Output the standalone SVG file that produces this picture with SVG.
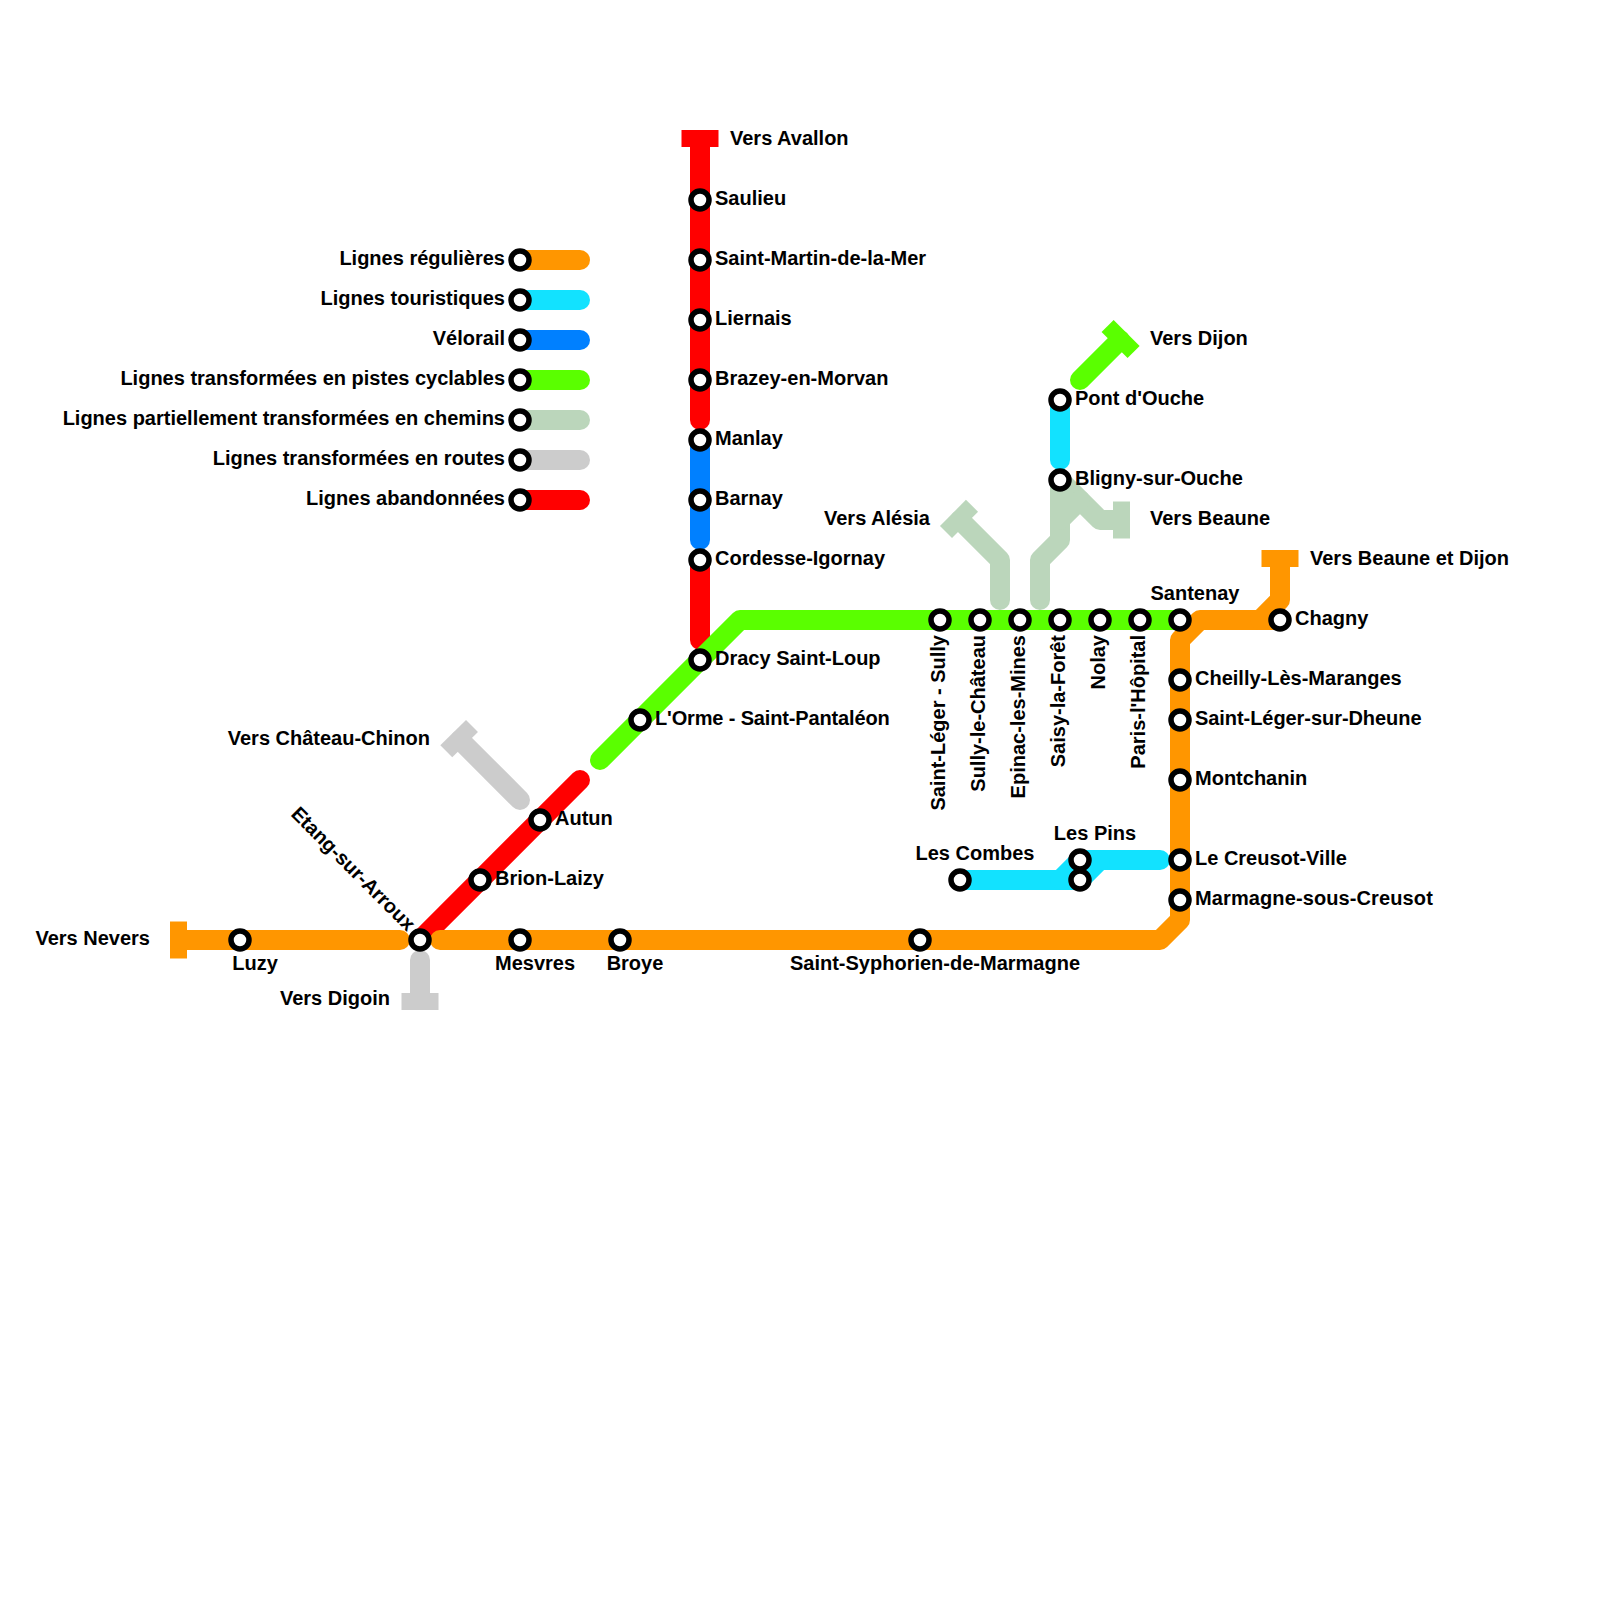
<svg xmlns="http://www.w3.org/2000/svg" width="1600" height="1600" viewBox="0 0 1600 1600">
<style>
.l{fill:none;stroke-width:20;stroke-linecap:round;stroke-linejoin:round}
.b{fill:none;stroke-width:17;stroke-linecap:butt}
.or{stroke:#ff9600}.cy{stroke:#12e2ff}.bl{stroke:#0080ff}.gr{stroke:#5aff00}.ch{stroke:#bbd6bb}.gy{stroke:#cccccc}.re{stroke:#ff0000}
.s{fill:#fff;stroke:#000;stroke-width:5.5}
text{font-family:"Liberation Sans",Arial,sans-serif;font-weight:700;font-size:20px;fill:#000}
.e{text-anchor:end}.m{text-anchor:middle}
</style>
<rect width="1600" height="1600" fill="#fff"/>
<g id="connectors">
<path class="l or" d="M520 260H580"/>
<path class="l cy" d="M520 300H580"/>
<path class="l bl" d="M520 340H580"/>
<path class="l gr" d="M520 380H580"/>
<path class="l ch" d="M520 420H580"/>
<path class="l gy" d="M520 460H580"/>
<path class="l re" d="M520 500H580"/>
<path class="l re" d="M700 140V420"/>
<path class="b re" d="M681.500 138.500H718.500"/>
<path class="l bl" d="M700 440V540"/>
<path class="l re" d="M700 560V640"/>
<path class="l re" d="M420 940L580 780"/>
<path class="l gr" d="M600 760L740 620H1180"/>
<path class="l gr" d="M1080 380L1120 340"/>
<path class="b gr" d="M1107.600 326L1133.600 352"/>
<path class="l cy" d="M1060 400V460"/>
<path class="l ch" d="M1000 600V560L960 520"/>
<path class="b ch" d="M972 505.800L946 532"/>
<path class="l ch" d="M1040 600V560L1060 540V480"/>
<path class="l ch" d="M1060 480L1100 520H1120"/>
<path class="l ch" d="M1060 520L1080 500"/>
<path class="b ch" d="M1121.500 501.500V538.500"/>
<path class="l gy" d="M520 800L460 740"/>
<path class="b gy" d="M472 726L446.300 751.300"/>
<path class="l gy" d="M420 960V1000"/>
<path class="b gy" d="M401.500 1001.500H438.500"/>
<path class="l or" d="M180 940H400"/>
<path class="b or" d="M178.500 921.500V958.500"/>
<path class="l or" d="M440 940H1160L1180 920V640L1200 620H1280"/>
<path class="l or" d="M1260 620L1280 600V560"/>
<path class="b or" d="M1261.500 558.500H1298.500"/>
<path class="l cy" d="M960 880H1080L1100 860H1160"/>
<path class="l cy" d="M1060 880L1080 860H1100"/>
</g>
<g id="legend-regulieres"><circle class="s" cx="520" cy="260" r="9"/><text class="e" x="505" y="265">Lignes régulières</text></g>
<g id="legend-touristiques"><circle class="s" cx="520" cy="300" r="9"/><text class="e" x="505" y="305">Lignes touristiques</text></g>
<g id="legend-velorail"><circle class="s" cx="520" cy="340" r="9"/><text class="e" x="505" y="345">Vélorail</text></g>
<g id="legend-pistes"><circle class="s" cx="520" cy="380" r="9"/><text class="e" x="505" y="385">Lignes transformées en pistes cyclables</text></g>
<g id="legend-chemins"><circle class="s" cx="520" cy="420" r="9"/><text class="e" x="505" y="425">Lignes partiellement transformées en chemins</text></g>
<g id="legend-routes"><circle class="s" cx="520" cy="460" r="9"/><text class="e" x="505" y="465">Lignes transformées en routes</text></g>
<g id="legend-abandonnees"><circle class="s" cx="520" cy="500" r="9"/><text class="e" x="505" y="505">Lignes abandonnées</text></g>
<g id="n-saulieu"><circle class="s" cx="700" cy="200" r="9"/><text x="715" y="205">Saulieu</text></g>
<g id="n-saint-martin"><circle class="s" cx="700" cy="260" r="9"/><text x="715" y="265">Saint-Martin-de-la-Mer</text></g>
<g id="n-liernais"><circle class="s" cx="700" cy="320" r="9"/><text x="715" y="325">Liernais</text></g>
<g id="n-brazey"><circle class="s" cx="700" cy="380" r="9"/><text x="715" y="385">Brazey-en-Morvan</text></g>
<g id="n-manlay"><circle class="s" cx="700" cy="440" r="9"/><text x="715" y="445">Manlay</text></g>
<g id="n-barnay"><circle class="s" cx="700" cy="500" r="9"/><text x="715" y="505">Barnay</text></g>
<g id="n-cordesse"><circle class="s" cx="700" cy="560" r="9"/><text x="715" y="565">Cordesse-Igornay</text></g>
<g id="n-dracy"><circle class="s" cx="700" cy="660" r="9"/><text x="715" y="665">Dracy Saint-Loup</text></g>
<g id="n-orme"><circle class="s" cx="640" cy="720" r="9"/><text x="655" y="725" textLength="234.700">L'Orme - Saint-Pantaléon</text></g>
<g id="n-autun"><circle class="s" cx="540" cy="820" r="9"/><text x="555" y="825">Autun</text></g>
<g id="n-brion"><circle class="s" cx="480" cy="880" r="9"/><text x="495" y="885">Brion-Laizy</text></g>
<g id="n-etang"><circle class="s" cx="420" cy="940" r="9"/><text class="e" transform="translate(407 932) rotate(45)">Etang-sur-Arroux</text></g>
<g id="n-luzy"><circle class="s" cx="240" cy="940" r="9"/><text class="m" x="255" y="969.500">Luzy</text></g>
<g id="n-mesvres"><circle class="s" cx="520" cy="940" r="9"/><text class="m" x="535" y="969.500">Mesvres</text></g>
<g id="n-broye"><circle class="s" cx="620" cy="940" r="9"/><text class="m" x="635" y="969.500">Broye</text></g>
<g id="n-syphorien"><circle class="s" cx="920" cy="940" r="9"/><text class="m" x="935" y="969.500">Saint-Syphorien-de-Marmagne</text></g>
<g id="n-combes"><circle class="s" cx="960" cy="880" r="9"/><text class="m" x="975" y="859.500">Les Combes</text></g>
<g id="n-pins"><circle class="s" cx="1080" cy="860" r="9"/><circle class="s" cx="1080" cy="880" r="9"/><text class="m" x="1095" y="839.500">Les Pins</text></g>
<g id="n-creusot"><circle class="s" cx="1180" cy="860" r="9"/><text x="1195" y="865">Le Creusot-Ville</text></g>
<g id="n-marmagne"><circle class="s" cx="1180" cy="900" r="9"/><text x="1195" y="905" textLength="237.800">Marmagne-sous-Creusot</text></g>
<g id="n-montchanin"><circle class="s" cx="1180" cy="780" r="9"/><text x="1195" y="785">Montchanin</text></g>
<g id="n-dheune"><circle class="s" cx="1180" cy="720" r="9"/><text x="1195" y="725" textLength="226.500">Saint-Léger-sur-Dheune</text></g>
<g id="n-cheilly"><circle class="s" cx="1180" cy="680" r="9"/><text x="1195" y="685">Cheilly-Lès-Maranges</text></g>
<g id="n-santenay"><circle class="s" cx="1180" cy="620" r="9"/><text class="m" x="1195" y="599.500">Santenay</text></g>
<g id="n-chagny"><circle class="s" cx="1280" cy="620" r="9"/><text x="1295" y="625">Chagny</text></g>
<g id="n-sully-leger"><circle class="s" cx="940" cy="620" r="9"/><text class="e" transform="translate(945 635) rotate(-90)">Saint-Léger - Sully</text></g>
<g id="n-sully-chateau"><circle class="s" cx="980" cy="620" r="9"/><text class="e" transform="translate(985 635) rotate(-90)">Sully-le-Château</text></g>
<g id="n-epinac"><circle class="s" cx="1020" cy="620" r="9"/><text class="e" transform="translate(1025 635) rotate(-90)">Epinac-les-Mines</text></g>
<g id="n-saisy"><circle class="s" cx="1060" cy="620" r="9"/><text class="e" transform="translate(1065 635) rotate(-90)">Saisy-la-Forêt</text></g>
<g id="n-nolay"><circle class="s" cx="1100" cy="620" r="9"/><text class="e" transform="translate(1105 635) rotate(-90)">Nolay</text></g>
<g id="n-paris"><circle class="s" cx="1140" cy="620" r="9"/><text class="e" transform="translate(1145 635) rotate(-90)">Paris-l'Hôpital</text></g>
<g id="n-pont"><circle class="s" cx="1060" cy="400" r="9"/><text x="1075" y="405">Pont d'Ouche</text></g>
<g id="n-bligny"><circle class="s" cx="1060" cy="480" r="9"/><text x="1075" y="485">Bligny-sur-Ouche</text></g>
<g id="t-avallon"><text x="730" y="145">Vers Avallon</text></g>
<g id="t-dijon"><text x="1150" y="345">Vers Dijon</text></g>
<g id="t-beaune"><text x="1150" y="525">Vers Beaune</text></g>
<g id="t-alesia"><text class="e" x="930" y="525">Vers Alésia</text></g>
<g id="t-beaune-dijon"><text x="1310" y="565">Vers Beaune et Dijon</text></g>
<g id="t-chinon"><text class="e" x="430" y="745">Vers Château-Chinon</text></g>
<g id="t-nevers"><text class="e" x="150" y="945">Vers Nevers</text></g>
<g id="t-digoin"><text class="e" x="390" y="1005">Vers Digoin</text></g>
</svg>
